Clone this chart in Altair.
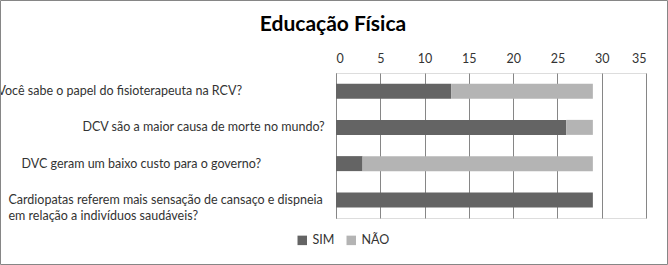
import altair as alt
import pandas as pd

title_text = ["Educação Física"]
questions = [
    "Você sabe o papel do fisioterapeuta na RCV?",
    "DCV são a maior causa de morte no mundo?",
    "DVC geram um baixo custo para o governo?",
    "Cardiopatas referem mais sensação de cansaço e dispneia|em relação a indivíduos saudáveis?",
]
sim = [13, 26, 3, 29]
nao = [16, 3, 26, 0]
series = ["SIM", "NÃO"]
colors = ["#646464", "#b4b4b4"]

rows = []
for q, s, n in zip(questions, sim, nao):
    rows.append({"q": q, "serie": "SIM", "ord": 0, "v": s})
    rows.append({"q": q, "serie": "NÃO", "ord": 1, "v": n})
df = pd.DataFrame(rows)

FONT = "Lato"

# label text boxes are left-aligned at different offsets, as in the reference
pad_cond = {
    "condition": [
        {"test": "datum.index == 0", "value": 339},
        {"test": "datum.index < 0.5", "value": 254},
        {"test": "datum.index < 0.9", "value": 315},
    ],
    "value": 328,
}

bars = alt.Chart(df).mark_bar(size=15).encode(
    y=alt.Y("q:N", sort=questions, title=None,
            axis=alt.Axis(labelExpr="split(datum.label, '|')", labelAlign="left",
                          labelPadding=pad_cond, ticks=False, domain=True,
                          domainColor="#868686",
                          labelFont=FONT, labelFontSize=12.5, labelColor="#333333",
                          labelLimit=400, labelLineHeight=16)),
    x=alt.X("v:Q", stack="zero", title=None,
            scale=alt.Scale(domain=[0, 35], nice=False),
            axis=alt.Axis(orient="top", values=[0, 5, 10, 15, 20, 25, 30, 35],
                          grid=True, gridColor="#868686", domain=False, ticks=False,
                          labelPadding=8, labelFont=FONT, labelFontSize=12.5,
                          labelColor="#333333")),
    color=alt.Color("serie:N", scale=alt.Scale(domain=series, range=colors),
                    legend=alt.Legend(title=None, orient="none", direction="horizontal",
                                      legendX=-40, legendY=161, symbolType="square",
                                      symbolSize=90, symbolStrokeWidth=0,
                                      labelFont=FONT, labelFontSize=12.5,
                                      labelColor="#333333", columnPadding=10)),
    order=alt.Order("ord:Q"),
)

title = alt.Chart(pd.DataFrame({"t": title_text})).mark_text(
    font=FONT, fontSize=21, fontWeight="bold", color="#000000",
    align="center", baseline="middle"
).encode(text="t:N", x=alt.value(-3), y=alt.value(-48))

frame = alt.Chart(pd.DataFrame({"a": [0]})).mark_rect(
    fill=None, stroke="#868686", strokeWidth=1
).encode(x=alt.value(-335.5), x2=alt.value(331.5), y=alt.value(-72.5), y2=alt.value(191.5))

chart = alt.layer(bars, title, frame).properties(
    width=310, height=145,
    padding={"left": 336, "top": 73, "right": 22, "bottom": 47},
    autosize=alt.AutoSizeParams(type="none"),
).configure_view(stroke=None).configure(background="white")

chart.save("out.html", embed_options={"renderer": "svg", "actions": False})
